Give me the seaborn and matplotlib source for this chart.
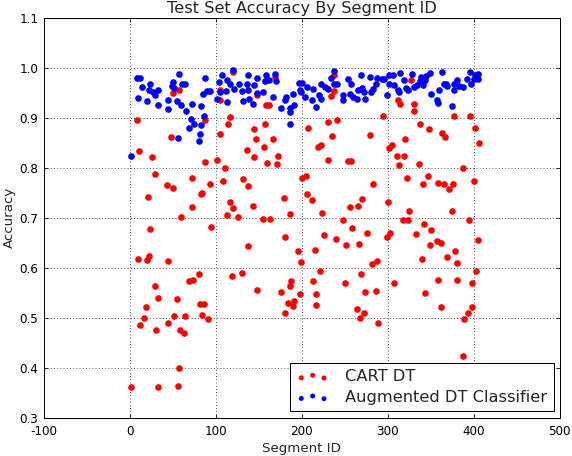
import matplotlib
matplotlib.use("Agg")
import matplotlib.pyplot as plt
import seaborn as sns
import numpy as np

# ---- data ----
cart_ids = [8, 50, 57, 88, 48, 11, 26, 120, 105, 105, 117, 114, 105, 145, 157, 147, 167, 156, 136, 144, 172, 148, 159, 162, 169, 207,
            238, 327, 237, 234, 312, 314, 330, 330, 295, 377, 396, 241, 231, 338, 348, 402, 363, 367, 235, 279, 320, 406, 223, 219, 305, 301,
            29, 43, 50, 21, 73, 88, 102, 111, 93, 83, 84, 72, 60, 24, 94, 109, 160, 171, 132, 137, 117, 120, 113, 126, 143, 155, 163, 179, 186,
            200, 205, 206, 180, 138, 196, 199, 10, 23, 20, 44, 81, 119, 131,
            69, 74, 29, 33, 19, 55, 82, 86, 17, 12, 30, 45, 51, 64, 84, 91, 59, 63, 57, 2, 33, 56, 148, 176, 188, 186, 198, 184, 191, 190, 180,
            230, 254, 257, 311, 319, 313, 336, 387, 212, 224, 283, 323, 341, 347, 359, 366, 371, 376, 400, 300, 270, 266, 256, 325, 375, 248,
            318, 324, 395, 258, 226, 240, 251, 267, 276, 299, 303, 333, 342, 350, 357, 362, 349, 405, 215, 378, 369, 381, 340, 282, 288, 221,
            269, 403, 213, 250, 307, 358, 380, 398,
            217, 217, 274, 286, 343, 264, 273, 268, 289, 362, 398, 393, 389, 387]
cart_acc = [0.896, 0.949, 0.956, 0.895, 0.861, 0.833, 0.821, 0.991, 0.955, 0.935, 0.901, 0.888, 0.867, 0.878, 0.888, 0.858, 0.857, 0.841, 0.836, 0.821, 0.823, 0.945, 0.925, 0.925, 0.981, 0.879,
            0.985, 0.975, 0.953, 0.943, 0.936, 0.928, 0.928, 0.913, 0.903, 0.903, 0.903, 0.895, 0.891, 0.888, 0.878, 0.879, 0.870, 0.861, 0.863, 0.865, 0.858, 0.849, 0.846, 0.841, 0.845, 0.839,
            0.787, 0.766, 0.759, 0.741, 0.779, 0.811, 0.815, 0.800, 0.768, 0.747, 0.749, 0.721, 0.701, 0.677, 0.681, 0.773, 0.810, 0.808, 0.777, 0.763, 0.731, 0.719, 0.705, 0.701, 0.723, 0.697, 0.697, 0.739, 0.708,
            0.780, 0.783, 0.747, 0.661, 0.643, 0.633, 0.611, 0.618, 0.623, 0.616, 0.613, 0.588, 0.583, 0.590,
            0.573, 0.575, 0.564, 0.539, 0.521, 0.538, 0.527, 0.527, 0.499, 0.485, 0.476, 0.490, 0.503, 0.503, 0.506, 0.497, 0.476, 0.469, 0.399, 0.361, 0.361, 0.363, 0.556, 0.551, 0.573, 0.564, 0.548, 0.530, 0.533, 0.524, 0.510,
            0.815, 0.813, 0.813, 0.824, 0.823, 0.805, 0.807, 0.800, 0.736, 0.709, 0.768, 0.779, 0.767, 0.783, 0.770, 0.767, 0.757, 0.767, 0.773, 0.731, 0.737, 0.723, 0.721, 0.713, 0.713, 0.696,
            0.695, 0.696, 0.695, 0.680, 0.665, 0.658, 0.646, 0.648, 0.669, 0.661, 0.669, 0.667, 0.687, 0.676, 0.653, 0.650, 0.646, 0.656, 0.636, 0.633, 0.621, 0.609, 0.617, 0.608, 0.613, 0.593,
            0.587, 0.593, 0.573, 0.569, 0.569, 0.575, 0.575, 0.570,
            0.548, 0.526, 0.551, 0.553, 0.550, 0.517, 0.510, 0.500, 0.490, 0.521, 0.521, 0.510, 0.498, 0.423]

aug_ids = [8, 12, 14, 24, 22, 27, 33, 10, 20, 29, 33, 45, 44, 50, 49, 52, 57, 55, 60, 61, 64, 65, 73, 71, 75, 69, 83, 85, 88, 90, 93, 86, 83, 82, 80, 56, 2,
           102, 105, 104, 107, 113, 112, 113, 117, 120, 121, 127, 131, 132, 136, 137, 137, 139, 143, 145, 148, 148, 155, 157, 159, 162, 169, 170, 167,
           176, 180, 182, 186, 186, 186, 190, 197, 198, 191,
           200, 199, 206, 204, 212, 213, 217, 220, 223, 223, 227, 231, 234, 238, 237, 241, 248, 248, 254, 256, 257, 260, 264, 266, 269, 270, 272, 274,
           279, 280, 283, 286, 288, 293, 296, 299, 301, 302, 306, 307, 312, 314, 313, 319, 321, 324, 328, 331, 334, 337, 339, 341, 343, 345, 349, 350,
           357, 358, 360, 363, 365, 368, 369, 375, 377, 377, 381, 383, 388, 392, 396, 397, 400, 402, 405, 405]
aug_acc = [0.979, 0.979, 0.961, 0.968, 0.955, 0.951, 0.956, 0.939, 0.933, 0.945, 0.925, 0.918, 0.935, 0.971, 0.963, 0.960, 0.987, 0.933, 0.925, 0.967, 0.968, 0.913, 0.928, 0.898, 0.888, 0.879, 0.923, 0.948, 0.979, 0.953, 0.953, 0.903, 0.886, 0.868, 0.853, 0.859, 0.823,
           0.938, 0.951, 0.971, 0.986, 0.975, 0.953, 0.931, 0.968, 0.995, 0.958, 0.968, 0.953, 0.933, 0.968, 0.955, 0.986, 0.938, 0.927, 0.965, 0.979, 0.950, 0.951, 0.973, 0.985, 0.975, 0.988, 0.973, 0.941,
           0.919, 0.935, 0.941, 0.919, 0.911, 0.888, 0.947, 0.969, 0.955, 0.926,
           0.969, 0.951, 0.961, 0.941, 0.935, 0.957, 0.921, 0.945, 0.968, 0.938, 0.961, 0.958, 0.979, 0.993, 0.968, 0.968, 0.945, 0.935, 0.978, 0.948, 0.968, 0.941, 0.938, 0.956, 0.985, 0.960, 0.951, 0.938,
           0.981, 0.951, 0.958, 0.967, 0.979, 0.978, 0.978, 0.946, 0.967, 0.985, 0.985, 0.965, 0.955, 0.989, 0.951, 0.976, 0.960, 0.956, 0.988, 0.961, 0.966, 0.973, 0.981, 0.965, 0.976, 0.983, 0.989, 0.948,
           0.935, 0.929, 0.955, 0.991, 0.967, 0.968, 0.963, 0.923, 0.968, 0.955, 0.976, 0.963, 0.961, 0.978, 0.991, 0.968, 0.978, 0.985, 0.988, 0.978]

series_labels = ["CART DT", "Augmented DT Classifier"]
x_ticks = [-100, 0, 100, 200, 300, 400, 500]
y_ticks = [0.3, 0.4, 0.5, 0.6, 0.7, 0.8, 0.9, 1.0, 1.1]

# ---- figure ----
sns.set_style("white")
plt.rcParams['font.family'] = ['DejaVu Sans']
DPI = 72
fig = plt.figure(figsize=(572 / DPI, 456 / DPI), dpi=DPI, facecolor="white")
ax = fig.add_axes([0.0764, 0.0844, 0.9021, 0.8772])

sns.scatterplot(x=cart_ids, y=cart_acc, ax=ax, color="#ff0000", s=44, linewidth=0,
                label=series_labels[0], zorder=3)
sns.scatterplot(x=aug_ids, y=aug_acc, ax=ax, color="#0000ff", s=44, linewidth=0,
                label=series_labels[1], zorder=3)

ax.set_xlim(-100, 500)
ax.set_ylim(0.3, 1.1)
ax.set_xticks(x_ticks)
ax.set_yticks(y_ticks)
ax.set_xticklabels([str(v) for v in x_ticks], fontsize=12)
ax.set_yticklabels([f"{v:.1f}" for v in y_ticks], fontsize=12)
ax.tick_params(direction="in", length=4, width=0.8, top=True, right=True,
               bottom=True, left=True, colors="black")
ax.tick_params(axis="x", pad=7)
ax.tick_params(axis="y", pad=5.5)
ax.grid(True, linestyle=(0, (1, 3)), color="black", linewidth=0.8)
ax.set_axisbelow(True)
for sp in ax.spines.values():
    sp.set_color("black")
    sp.set_linewidth(1.0)

ax.set_xlabel("Segment ID", fontsize=13.4, labelpad=4)
ax.set_ylabel("Accuracy", fontsize=13.4, labelpad=3)
ax.set_title("Test Set Accuracy By Segment ID", fontsize=16.2, pad=4.7)

leg = ax.legend(loc="lower right", scatterpoints=3, scatteryoffsets=[0.3, 0.52, 0.28],
                fancybox=False, edgecolor="black", framealpha=1, fontsize=16.2,
                markerscale=0.75, borderaxespad=0.38, handlelength=2.0,
                handletextpad=1.0, borderpad=0.4, labelspacing=0.35)
leg.get_frame().set_linewidth(1.0)

fig.savefig("out.png", dpi=DPI, facecolor="white")
